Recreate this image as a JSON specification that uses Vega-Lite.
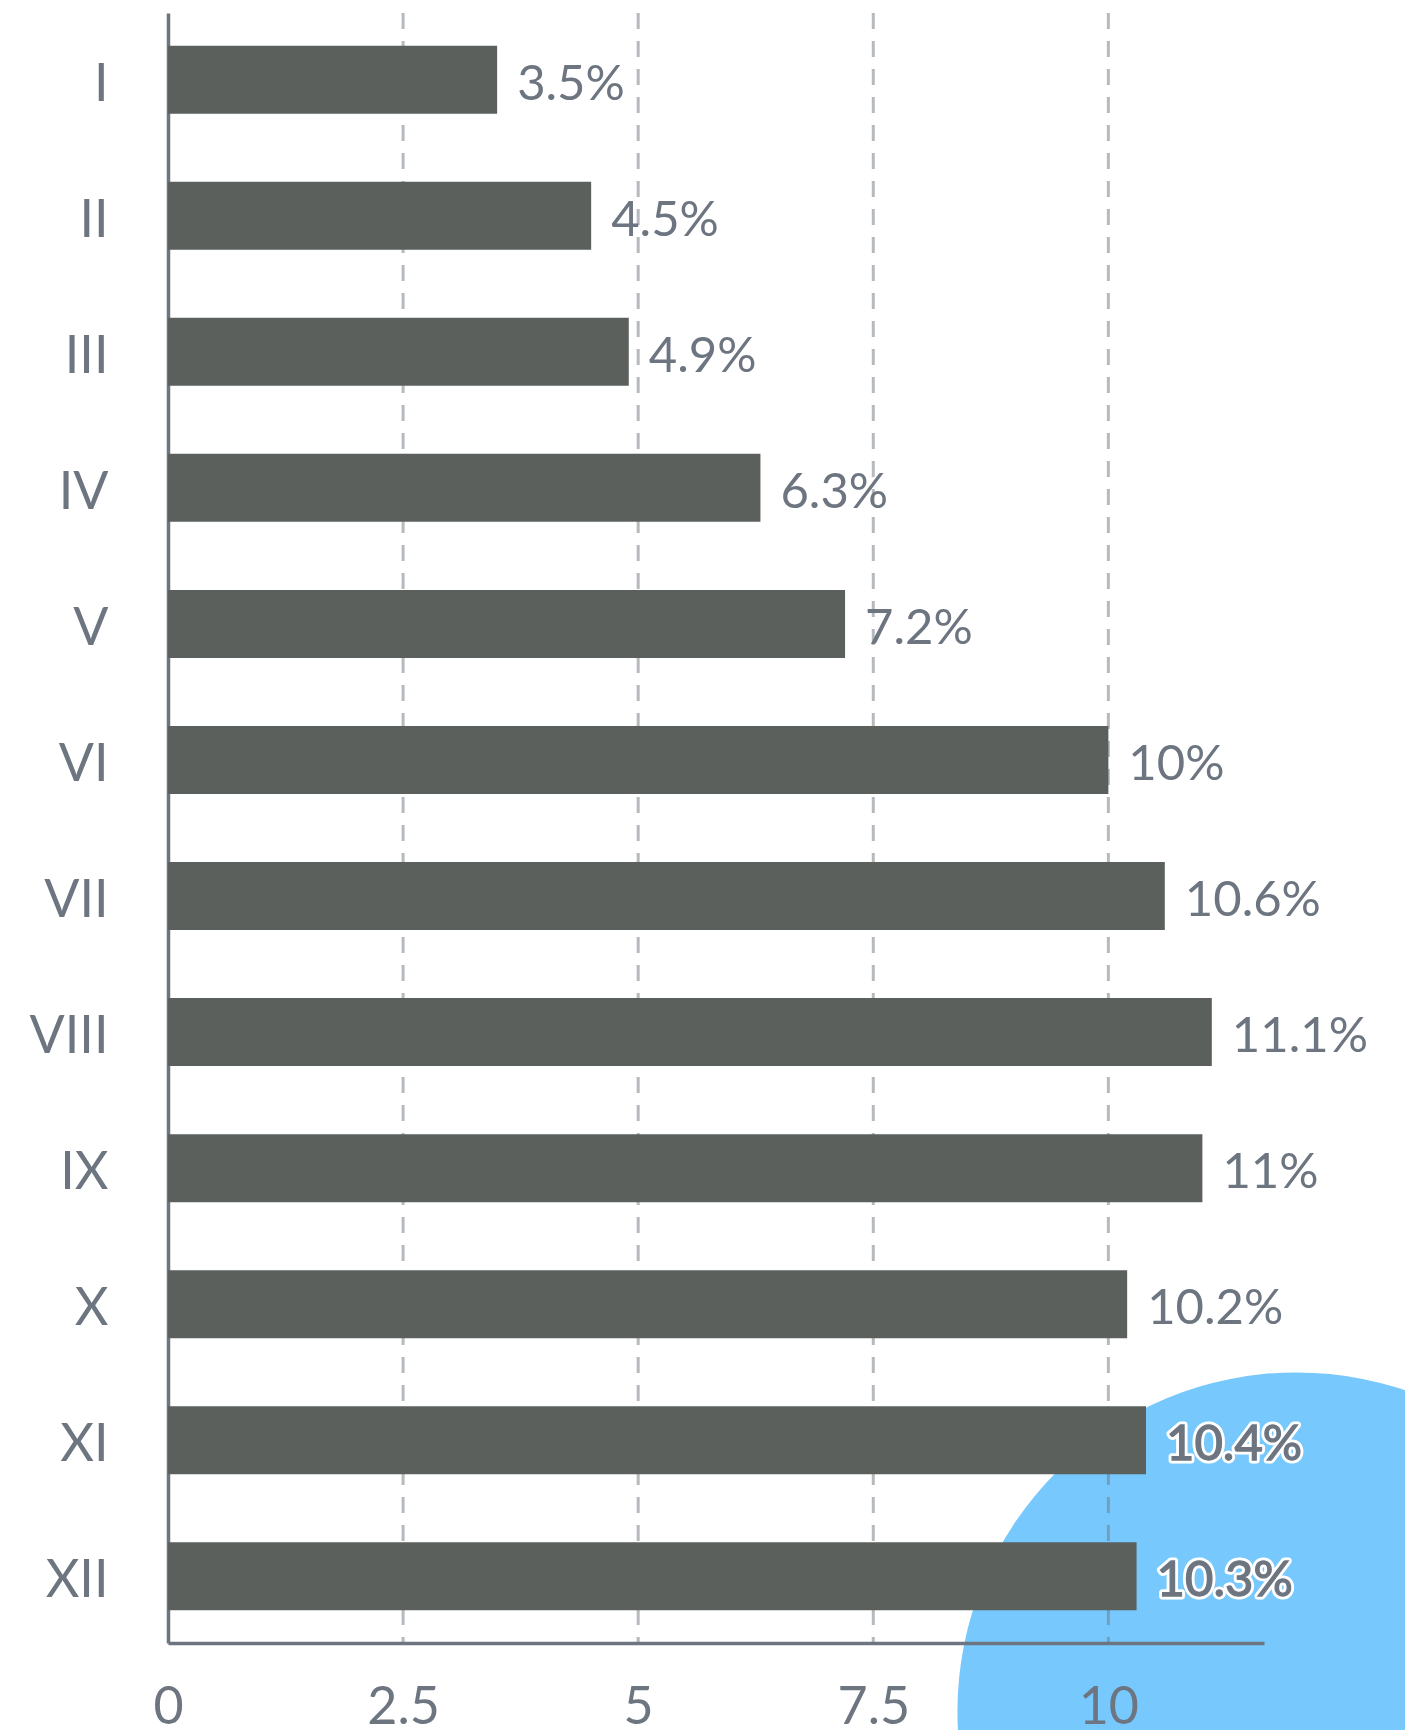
{
  "$schema": "https://vega.github.io/schema/vega-lite/v6.json",
  "autosize": {"type": "none"},
  "padding": {"left": 168, "top": 13, "right": 141, "bottom": 87},
  "width": 1096,
  "height": 1630,
  "background": "#ffffff",
  "config": {
    "view": {"stroke": null},
    "font": "Lato",
    "axisX": {"grid": false, "ticks": false, "domainColor": "#6d7580", "domainWidth": 3.5, "labelFont": "Lato", "labelFontSize": 52, "labelColor": "#6d7580", "labelPadding": 39, "labelFlush": false, "labelOverlap": false, "labelBound": false, "zindex": 2, "title": null},
    "axisY": {"grid": false, "ticks": false, "domainColor": "#6d7580", "domainWidth": 3.5, "labelFont": "Lato", "labelFontSize": 52, "labelColor": "#6d7580", "labelPadding": 60, "labelOffset": 5, "zindex": 2, "title": null}
  },
  "datasets": {
    "bars": [
      {"month": "I", "value": 3.5},
      {"month": "II", "value": 4.5},
      {"month": "III", "value": 4.9},
      {"month": "IV", "value": 6.3},
      {"month": "V", "value": 7.2},
      {"month": "VI", "value": 10},
      {"month": "VII", "value": 10.6},
      {"month": "VIII", "value": 11.1},
      {"month": "IX", "value": 11},
      {"month": "X", "value": 10.2},
      {"month": "XI", "value": 10.4},
      {"month": "XII", "value": 10.3}
    ],
    "circle": [{"cx": 12.0, "cy": -4.2}],
    "grid": [{"v": 2.5}, {"v": 5}, {"v": 7.5}, {"v": 10}]
  },
  "resolve": {"scale": {"y": "independent"}},
  "layer": [
    {
      "data": {"name": "circle"},
      "mark": {"type": "point", "shape": "circle", "filled": true, "size": 459684, "color": "#76c8fd", "opacity": 1, "clip": false},
      "encoding": {
        "x": {"field": "cx", "type": "quantitative", "scale": {"domain": [0, 11.655], "nice": false, "zero": true}, "axis": {"values": [0, 2.5, 5, 7.5, 10], "format": "~g", "zindex": 2, "labelFlush": false}},
        "y": {"field": "cy", "type": "quantitative", "scale": {"domain": [0, 100], "nice": false, "zero": false}, "axis": null}
      }
    },
    {
      "data": {"name": "grid"},
      "mark": {"type": "rule", "color": "#6d7580", "opacity": 0.5, "strokeWidth": 3, "strokeDash": [16, 12]},
      "encoding": {
        "x": {"field": "v", "type": "quantitative"}
      }
    },
    {
      "data": {"name": "bars"},
      "transform": [{"calculate": "format(datum.value, '~g') + '%'", "as": "label"}],
      "layer": [
        {
          "mark": {"type": "bar", "color": "#5b605c"},
          "encoding": {
            "x": {"field": "value", "type": "quantitative"},
            "y": {"field": "month", "type": "nominal", "sort": null, "scale": {"paddingInner": 0.5, "paddingOuter": 0.24}}
          }
        },
        {
          "transform": [{"filter": "datum.month === 'XI' || datum.month === 'XII'"}],
          "mark": {"type": "text", "align": "left", "baseline": "middle", "dx": 20, "dy": 5, "fontSize": 49, "font": "Lato", "fill": "#ffffff", "stroke": "#ffffff", "strokeWidth": 7, "strokeJoin": "round"},
          "encoding": {
            "x": {"field": "value", "type": "quantitative"},
            "y": {"field": "month", "type": "nominal", "sort": null},
            "text": {"field": "label", "type": "nominal"}
          }
        },
        {
          "mark": {"type": "text", "align": "left", "baseline": "middle", "dx": 20, "dy": 5, "fontSize": 49, "font": "Lato", "color": "#6d7580"},
          "encoding": {
            "x": {"field": "value", "type": "quantitative"},
            "y": {"field": "month", "type": "nominal", "sort": null},
            "text": {"field": "label", "type": "nominal"},
            "stroke": {"value": "#6d7580"},
            "strokeWidth": {"condition": {"test": "datum.month === 'XI' || datum.month === 'XII'", "value": 1.3}, "value": 0}
          }
        }
      ]
    }
  ]
}
